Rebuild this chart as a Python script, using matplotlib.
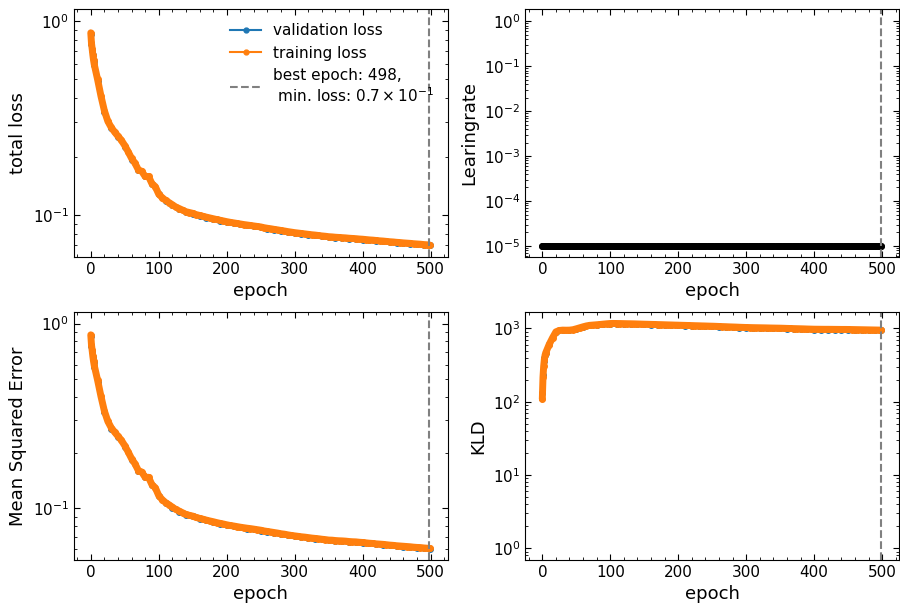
import matplotlib
matplotlib.use("Agg")
import matplotlib.pyplot as plt

epochs = [0, 1, 2, 3, 4] + list(range(5, 500, 5)) + [499]
epochs_val = [0, 1, 2, 3, 4, 5] + list(range(10, 500, 10)) + [499]

train_total = [0.87, 0.77, 0.72, 0.67, 0.63,
               0.60, 0.50, 0.41, 0.345, 0.305, 0.283, 0.268, 0.255, 0.243, 0.228,
               0.212, 0.196, 0.185, 0.171, 0.168, 0.158, 0.158, 0.145, 0.140, 0.128,
               0.123, 0.119, 0.116, 0.113, 0.110, 0.108, 0.106, 0.104, 0.103, 0.102,
               0.1005, 0.0995, 0.0985, 0.0975, 0.0966, 0.0957, 0.0948, 0.094, 0.0932, 0.0924,
               0.0917, 0.0911, 0.0905, 0.0899, 0.0893, 0.0888, 0.0883, 0.0878, 0.0873, 0.0868,
               0.0860, 0.0854, 0.0849, 0.0843, 0.0838, 0.0832, 0.0827, 0.0821, 0.0816, 0.0811,
               0.0807, 0.0803, 0.0799, 0.0795, 0.0791, 0.0788, 0.0784, 0.0780, 0.0777, 0.0773,
               0.0771, 0.0768, 0.0766, 0.0764, 0.0762, 0.0759, 0.0757, 0.0755, 0.0752, 0.0750,
               0.0747, 0.0744, 0.0742, 0.0739, 0.0736, 0.0734, 0.0731, 0.0728, 0.0726, 0.0723,
               0.0721, 0.0718, 0.0716, 0.0714, 0.0711, 0.0709, 0.0707, 0.0704, 0.0702, 0.0700]

val_total = [0.86, 0.76, 0.71, 0.665, 0.625, 0.59,
             0.49, 0.34, 0.28, 0.252, 0.225, 0.193, 0.17, 0.158, 0.145, 0.128,
             0.118, 0.112, 0.107, 0.1035, 0.1015, 0.099, 0.097, 0.0952, 0.0936, 0.092,
             0.0907, 0.0895, 0.0884, 0.0874, 0.0864, 0.0851, 0.084, 0.0829, 0.0818, 0.0808,
             0.08, 0.0792, 0.0785, 0.0777, 0.077, 0.0765, 0.0761, 0.0756, 0.0752, 0.0747,
             0.0741, 0.0736, 0.0731, 0.0725, 0.072, 0.0715, 0.0711, 0.0706, 0.0701, 0.0697]

train_mse = [0.869, 0.768, 0.717, 0.666, 0.626,
             0.595, 0.494, 0.403, 0.336, 0.296, 0.273, 0.2585, 0.2455, 0.2334, 0.218,
             0.2018, 0.1855, 0.174, 0.160, 0.157, 0.147, 0.147, 0.134, 0.129, 0.117,
             0.1113, 0.1073, 0.1044, 0.1014, 0.0985, 0.0965, 0.0945, 0.0925, 0.0915, 0.0906,
             0.0891, 0.0881, 0.0872, 0.0862, 0.0853, 0.0845, 0.0836, 0.0828, 0.0821, 0.0813,
             0.0806, 0.0801, 0.0795, 0.0789, 0.0784, 0.0779, 0.0775, 0.0770, 0.0765, 0.0760,
             0.0753, 0.0748, 0.0743, 0.0738, 0.0733, 0.0727, 0.0723, 0.0717, 0.0712, 0.0708,
             0.0704, 0.0700, 0.0697, 0.0693, 0.0689, 0.0686, 0.0683, 0.0679, 0.0676, 0.0672,
             0.0671, 0.0668, 0.0666, 0.0665, 0.0663, 0.0660, 0.0658, 0.0657, 0.0654, 0.0652,
             0.0649, 0.0646, 0.0644, 0.0641, 0.0639, 0.0637, 0.0634, 0.0631, 0.0629, 0.0626,
             0.0624, 0.0622, 0.0620, 0.0618, 0.0615, 0.0613, 0.0612, 0.0609, 0.0607, 0.0605]

val_mse = [0.859, 0.758, 0.706, 0.66, 0.62, 0.585,
           0.484, 0.331, 0.27, 0.243, 0.215, 0.182, 0.159, 0.147, 0.134, 0.116,
           0.1065, 0.1005, 0.0955, 0.092, 0.0902, 0.0877, 0.0858, 0.0841, 0.0825, 0.081,
           0.0797, 0.0786, 0.0776, 0.0767, 0.0757, 0.0745, 0.0735, 0.0725, 0.0714, 0.0705,
           0.0698, 0.069, 0.0684, 0.0677, 0.067, 0.0666, 0.0662, 0.0658, 0.0655, 0.065,
           0.0644, 0.0639, 0.0635, 0.0629, 0.0624, 0.062, 0.0616, 0.0611, 0.0607, 0.0603]

train_kld = [109, 216, 305, 377, 430,
             465, 603, 745, 900, 940, 950, 948, 950, 962, 990,
             1022, 1055, 1085, 1105, 1115, 1125, 1135, 1148, 1160, 1170,
             1172, 1170, 1168, 1165, 1162, 1160, 1157, 1153, 1149, 1145,
             1142, 1138, 1135, 1131, 1128, 1124, 1120, 1117, 1113, 1110,
             1106, 1103, 1099, 1096, 1092, 1089, 1085, 1082, 1078, 1075,
             1071, 1066, 1062, 1058, 1053, 1049, 1045, 1040, 1036, 1032,
             1030, 1027, 1025, 1023, 1021, 1019, 1016, 1014, 1012, 1010,
             1007, 1003, 1000, 997, 994, 991, 988, 984, 981, 978,
             977, 976, 975, 975, 974, 973, 972, 971, 971, 970,
             968, 966, 964, 962, 960, 958, 956, 954, 952, 950]

val_kld = [132, 235, 357, 395, 440, 470,
           610, 895, 945, 945, 985, 1048, 1100, 1118, 1140, 1160,
           1160, 1155, 1150, 1143, 1135, 1128, 1121, 1114, 1107, 1100,
           1093, 1086, 1079, 1072, 1065, 1056, 1048, 1039, 1030, 1022,
           1017, 1013, 1009, 1004, 1000, 993, 987, 981, 974, 968,
           966, 965, 963, 961, 960, 956, 952, 948, 944, 940]

learning_rate = [1e-5] * len(epochs)

best_epoch = 498

plt.rcParams['xtick.direction'] = 'in'
plt.rcParams['ytick.direction'] = 'in'
plt.rcParams['xtick.top'] = True
plt.rcParams['ytick.right'] = True
plt.rcParams['xtick.minor.visible'] = True
plt.rcParams['ytick.minor.visible'] = True
plt.rcParams['xtick.major.size'] = 4
plt.rcParams['ytick.major.size'] = 4
plt.rcParams['xtick.minor.size'] = 2
plt.rcParams['ytick.minor.size'] = 2
plt.rcParams['xtick.labelsize'] = 11
plt.rcParams['ytick.labelsize'] = 11
plt.rcParams['axes.labelsize'] = 13

fig, axs = plt.subplots(2, 2, figsize=(9, 6.03), dpi=100)
plt.subplots_adjust(left=0.082, right=0.999, bottom=0.0713, top=0.9846,
                    wspace=0.208, hspace=0.224)


def draw(ax, x, y, color, label=None, band=True):
    # one value per epoch in the original -> markers merge into a thick band
    if band:
        ax.plot(x, y, color=color, linewidth=5.0, solid_capstyle='round',
                solid_joinstyle='round')
    ax.plot(x, y, color=color, marker='o', markersize=4.0, linewidth=1.5,
            label=label)


def vline(ax):
    ax.axvline(best_epoch, color='gray', linestyle='--', linewidth=1.5,
               label='best epoch: 498,\n min. loss: $0.7 \\times 10^{-1}$')


# total loss
ax = axs[0, 0]
draw(ax, epochs_val, val_total, 'C0', 'validation loss', band=False)
draw(ax, epochs, train_total, 'C1', 'training loss')
vline(ax)
ax.set_yscale('log')
ax.set_ylim(0.0608, 1.15)
ax.set_ylabel('total loss')
leg = ax.legend(loc='upper right', frameon=False, fontsize=11)
for h in leg.get_lines()[:2]:
    h.set_markersize(3.5)

# learning rate
ax = axs[0, 1]
draw(ax, epochs, learning_rate, 'black')
vline(ax)
ax.set_yscale('log')
ax.set_ylim(5.7e-6, 1.85)
ax.set_ylabel('Learingrate')

# mse
ax = axs[1, 0]
draw(ax, epochs_val, val_mse, 'C0', band=False)
draw(ax, epochs, train_mse, 'C1')
vline(ax)
ax.set_yscale('log')
ax.set_ylim(0.0524, 1.15)
ax.set_ylabel('Mean Squared Error')

# kld
ax = axs[1, 1]
draw(ax, epochs_val, val_kld, 'C0', band=False)
draw(ax, epochs, train_kld, 'C1')
vline(ax)
ax.set_yscale('log')
ax.set_ylim(0.69, 1660)
ax.set_ylabel('KLD')

for ax in axs.flat:
    ax.set_xlim(-25, 525)
    ax.set_xlabel('epoch')

plt.savefig('out.png', dpi=100)
